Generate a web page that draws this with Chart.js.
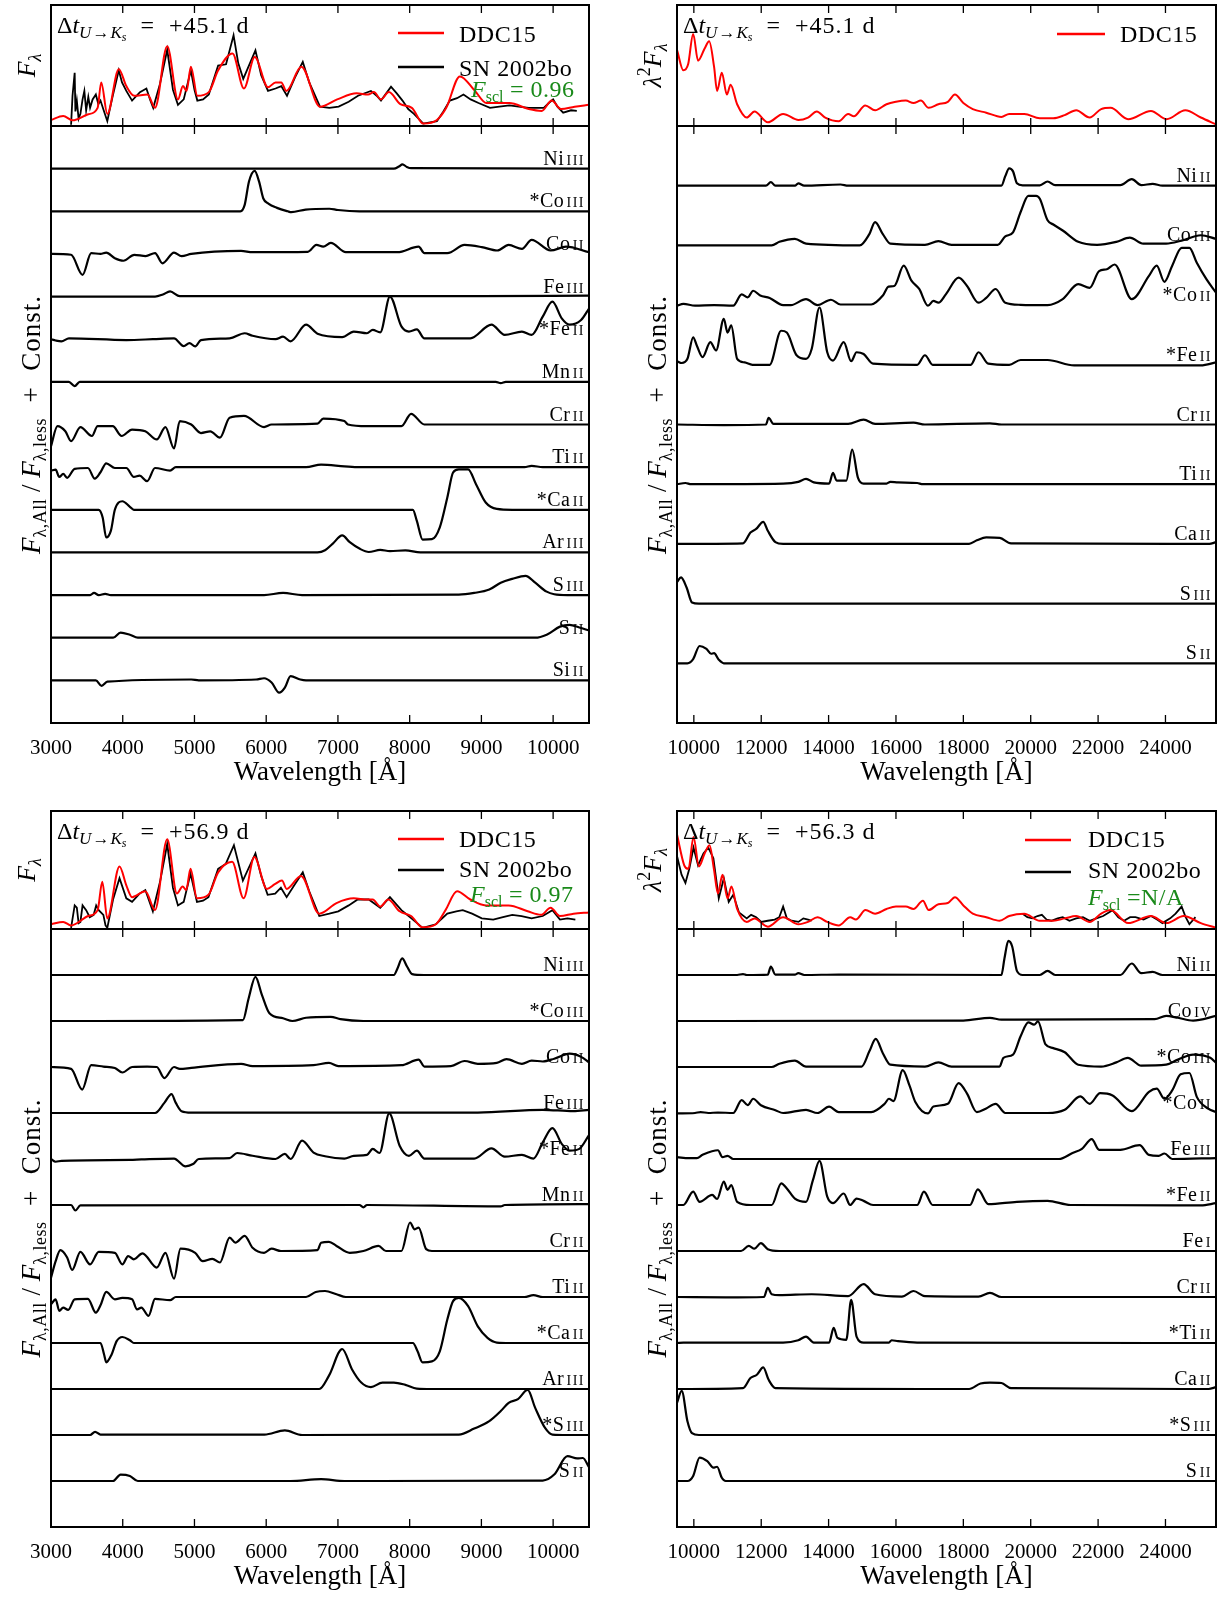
<!DOCTYPE html>
<html>
<head>
<meta charset="utf-8">
<script src="https://cdn.jsdelivr.net/npm/chart.js@4.4.1/dist/chart.umd.min.js"></script>
<style>
  body { margin: 0; background: #fff; width: 1219px; height: 1597px; position: relative; overflow: hidden; }
  canvas { position: absolute; }
</style>
</head>
<body>
<canvas id="tlTop"></canvas><canvas id="tlLow"></canvas>
<canvas id="trTop"></canvas><canvas id="trLow"></canvas>
<canvas id="blTop"></canvas><canvas id="blLow"></canvas>
<canvas id="brTop"></canvas><canvas id="brLow"></canvas>
<script>
// ---- tick values ----
const ticksOpt = [3000, 4000, 5000, 6000, 7000, 8000, 9000, 10000];
const ticksIR = [10000, 12000, 14000, 16000, 18000, 20000, 22000, 24000];

// ---- top panels: model (DDC15) and observed (SN 2002bo), pairs [wavelength, flux] ----
const modelTL = [3000,0.05, 3170,0.083, 3300,0.047, 3520,0.097, 3650,0.15, 3700,0.36, 3785,0.10, 3945,0.47, 4050,0.33, 4160,0.25, 4345,0.26, 4450,0.15, 4620,0.66, 4770,0.22, 4840,0.33, 4890,0.29, 4950,0.49, 5040,0.25, 5200,0.28, 5330,0.46, 5530,0.60, 5690,0.31, 5840,0.57, 6025,0.32, 6130,0.36, 6210,0.36, 6280,0.29, 6490,0.49, 6750,0.16, 6990,0.22, 7260,0.27, 7420,0.26, 7500,0.28, 7600,0.22, 7710,0.28, 7870,0.18, 8030,0.15, 8190,0.02, 8380,0.05, 8510,0.15, 8700,0.41, 8910,0.29, 9070,0.19, 9390,0.19, 9660,0.14, 9840,0.125, 9980,0.21, 10110,0.14, 10300,0.16, 10500,0.175];
const obsTL = [3280,0.01, 3300,0.25, 3330,0.44, 3340,0.12, 3360,0.21, 3385,0.06, 3410,0.10, 3440,0.22, 3465,0.29, 3490,0.13, 3520,0.24, 3545,0.15, 3580,0.22, 3625,0.26, 3660,0.18, 3690,0.21, 3740,0.12, 3785,0.04, 3820,0.14, 3865,0.26, 3945,0.46, 3990,0.36, 4050,0.29, 4130,0.21, 4240,0.28, 4330,0.31, 4380,0.22, 4425,0.15, 4520,0.35, 4620,0.63, 4700,0.30, 4770,0.175, 4850,0.22, 4950,0.46, 5000,0.30, 5040,0.21, 5120,0.22, 5200,0.26, 5330,0.50, 5440,0.51, 5545,0.75, 5610,0.52, 5680,0.39, 5850,0.625, 5930,0.42, 6025,0.29, 6130,0.31, 6210,0.33, 6290,0.25, 6400,0.40, 6510,0.53, 6600,0.36, 6750,0.16, 6880,0.15, 7010,0.16, 7150,0.20, 7280,0.25, 7460,0.29, 7540,0.25, 7600,0.21, 7740,0.325, 7820,0.27, 7900,0.21, 7980,0.14, 8060,0.10, 8190,0.02, 8380,0.04, 8470,0.12, 8560,0.21, 8660,0.23, 8750,0.26, 8850,0.22, 8960,0.19, 9120,0.15, 9250,0.16, 9390,0.17, 9520,0.16, 9660,0.15, 9870,0.15, 9940,0.19, 10000,0.22, 10060,0.16, 10140,0.11, 10250,0.13, 10330,0.125];
const modelTR = [9500,0.63, 9690,0.46, 9830,0.51, 9980,0.76, 10125,0.54, 10320,0.64, 10455,0.70, 10600,0.49, 10690,0.29, 10830,0.44, 10980,0.26, 11090,0.34, 11285,0.18, 11570,0.07, 11800,0.12, 12195,0.03, 12650,0.10, 13105,0.05, 13390,0.07, 13650,0.12, 13900,0.07, 14300,0.04, 14580,0.10, 14750,0.08, 15090,0.17, 15380,0.13, 15720,0.18, 16000,0.20, 16290,0.21, 16520,0.19, 16740,0.21, 16970,0.15, 17260,0.18, 17540,0.20, 17750,0.26, 18000,0.19, 18280,0.14, 18680,0.11, 19130,0.075, 19360,0.10, 19810,0.10, 20270,0.064, 20670,0.064, 21010,0.09, 21350,0.13, 21750,0.07, 22090,0.14, 22370,0.15, 22890,0.056, 23570,0.125, 24030,0.056, 24590,0.13, 25050,0.07, 25500,0.014];
const modelBL = [3000,0.04, 3170,0.06, 3280,0.03, 3520,0.11, 3650,0.16, 3715,0.40, 3785,0.09, 3955,0.53, 4050,0.37, 4130,0.27, 4315,0.32, 4450,0.16, 4620,0.76, 4755,0.30, 4835,0.36, 4885,0.33, 4945,0.51, 5035,0.26, 5195,0.29, 5330,0.48, 5525,0.57, 5685,0.26, 5835,0.61, 6010,0.34, 6120,0.38, 6220,0.41, 6285,0.34, 6485,0.45, 6740,0.13, 6980,0.22, 7220,0.26, 7405,0.25, 7485,0.25, 7590,0.19, 7700,0.25, 7860,0.15, 8020,0.11, 8180,0.014, 8365,0.04, 8500,0.16, 8660,0.32, 8845,0.25, 9060,0.20, 9380,0.20, 9645,0.15, 9830,0.12, 9965,0.18, 10095,0.11, 10285,0.13, 10500,0.14];
const obsBL = [3280,0.01, 3330,0.20, 3360,0.18, 3385,0.05, 3410,0.06, 3440,0.20, 3490,0.16, 3540,0.10, 3595,0.12, 3630,0.20, 3665,0.16, 3730,0.12, 3760,0.03, 3785,0.01, 3865,0.25, 3955,0.43, 4050,0.26, 4130,0.23, 4235,0.30, 4315,0.33, 4420,0.15, 4520,0.40, 4620,0.72, 4700,0.35, 4770,0.20, 4850,0.23, 4945,0.47, 5035,0.23, 5120,0.24, 5195,0.27, 5330,0.51, 5435,0.55, 5550,0.71, 5675,0.41, 5850,0.64, 5930,0.45, 6020,0.29, 6125,0.30, 6205,0.35, 6285,0.27, 6400,0.38, 6510,0.48, 6600,0.32, 6740,0.11, 6880,0.13, 7005,0.15, 7150,0.20, 7275,0.25, 7430,0.25, 7590,0.18, 7725,0.27, 7885,0.16, 8045,0.08, 8180,0.01, 8365,0.04, 8525,0.13, 8650,0.15, 8740,0.16, 8870,0.13, 9005,0.09, 9165,0.08, 9300,0.10, 9430,0.12, 9560,0.11, 9700,0.09, 9855,0.11, 9990,0.16, 10095,0.08, 10200,0.09, 10310,0.08];
const modelBR = [9500,0.80, 9715,0.54, 9840,0.51, 9990,0.78, 10150,0.53, 10320,0.64, 10465,0.71, 10600,0.50, 10715,0.30, 10850,0.46, 11000,0.26, 11115,0.36, 11285,0.17, 11570,0.06, 11800,0.09, 12195,0.02, 12650,0.10, 13105,0.04, 13390,0.06, 13670,0.10, 13960,0.06, 14300,0.03, 14640,0.10, 14810,0.08, 15095,0.16, 15380,0.13, 15720,0.17, 16000,0.19, 16290,0.19, 16520,0.17, 16800,0.24, 16970,0.16, 17260,0.21, 17540,0.22, 17750,0.27, 18000,0.20, 18280,0.13, 18680,0.10, 19075,0.07, 19360,0.11, 19810,0.13, 20270,0.07, 20670,0.07, 21010,0.09, 21350,0.11, 21750,0.06, 22090,0.13, 22370,0.16, 22890,0.05, 23570,0.11, 24030,0.05, 24540,0.11, 25050,0.05, 25500,0.01];
const obsBR = [9500,0.62, 9635,0.46, 9750,0.39, 9865,0.51, 9990,0.69, 10125,0.54, 10285,0.64, 10430,0.69, 10580,0.60, 10740,0.26, 10890,0.43, 11035,0.23, 11170,0.29, 11340,0.14, 11570,0.09, 11700,0.12, 11850,0.10, 12000,0.06, 12195,0.07, 12400,0.08, 12535,0.10, 12650,0.19, 12760,0.09, 12900,0.07, 13105,0.06, 13250,0.09, 13390,0.08, 13500,0.07, 14000,null, 19760,0.13, 19900,0.10, 20045,0.09, 20200,0.11, 20330,0.12, 20470,0.08, 20610,0.07, 20800,0.09, 20950,0.10, 21150,0.07, 21350,0.09, 21550,0.10, 21750,0.07, 21950,0.09, 22150,0.11, 22430,0.16, 22600,0.10, 22770,0.07, 22950,0.10, 23110,0.10, 23350,0.08, 23570,0.11, 23750,0.08, 23910,0.05, 24140,0.09, 24300,0.13, 24480,0.19, 24600,0.10, 24710,0.04, 24890,0.10];

// ---- ion contributions (top to bottom), offsets, and curves [wavelength, value] ----
const ionsTL = ['Ni III', '*Co III', 'Co II', 'Fe III', '*Fe II', 'Mn II', 'Cr II', 'Ti II', '*Ca II', 'Ar III', 'S III', 'S II', 'Si II'];
const constTL = [13, 12, 11, 10, 9, 8, 7, 6, 5, 4, 3, 2, 1];
const curvesTL = [
  [3000,0, 7780,0, 7850,0.05, 7900,0.1, 7960,0.04, 8020,0.01, 10500,0],
  [3000,0, 5640,0, 5700,0.15, 5760,0.7, 5840,0.95, 5900,0.7, 5960,0.3, 6030,0.18, 6150,0.08, 6300,0, 6350,-0.02, 6550,0.04, 6880,0.06, 7000,0.03, 7300,0, 10500,0],
  [3000,0, 3280,-0.02, 3440,-0.49, 3560,0.02, 3690,0, 3770,0.03, 3890,-0.1, 4010,-0.16, 4160,-0.02, 4320,-0.05, 4450,0.02, 4555,-0.22, 4715,0.03, 4820,-0.05, 4955,0, 5650,0.07, 5810,0.04, 6580,0.05, 6700,0.21, 6795,0.17, 6900,0.26, 7110,0.04, 7830,0.04, 8125,0.17, 8205,0.02, 8525,0.02, 8765,0.21, 9005,0.16, 9220,0.08, 9380,0.21, 9565,0.12, 9700,0.33, 9965,0.08, 10180,0.17, 10500,0.04],
  [3000,0, 4450,0, 4560,0.05, 4660,0.12, 4795,0.01, 9000,0.01, 10500,0.02],
  [3000,0, 3065,-0.03, 3145,-0.05, 3250,0.02, 4050,-0.02, 4420,0, 4715,0.02, 4850,-0.16, 4930,-0.09, 5010,-0.17, 5090,-0.02, 5490,0.02, 5700,0.14, 5810,0.08, 6130,0, 6235,0.06, 6340,-0.05, 6555,0.34, 6715,0.13, 7060,0.05, 7220,0.18, 7405,0.14, 7485,0.22, 7590,0.16, 7725,1.0, 7885,0.30, 7990,0.18, 8100,0.23, 8205,0.02, 8845,0.02, 9140,0.34, 9325,0.10, 9565,0.18, 9700,0.10, 9855,0.53, 9990,0.88, 10120,0.49, 10230,0.34, 10390,0.45, 10500,0.72],
  [3000,0, 3250,0, 3330,-0.1, 3400,0, 9200,0, 9270,-0.03, 9340,0, 10500,0],
  [3000,-0.51, 3090,-0.04, 3200,-0.16, 3280,-0.39, 3410,-0.06, 3570,-0.27, 3650,-0.04, 3860,-0.04, 3985,-0.27, 4130,-0.12, 4315,-0.16, 4475,-0.35, 4595,-0.06, 4715,-0.56, 4795,0.08, 4955,0, 5090,-0.2, 5220,-0.16, 5355,-0.31, 5490,0.16, 5690,0.2, 5970,-0.06, 6075,0, 6715,0.02, 6795,0.14, 7090,0.08, 7140,0, 7405,-0.04, 7885,-0.04, 8020,0.25, 8205,0, 10500,0],
  [3000,-0.08, 3065,-0.06, 3115,-0.23, 3170,-0.16, 3225,-0.25, 3330,-0.04, 3515,-0.02, 3610,-0.27, 3690,-0.12, 3770,0.09, 3890,-0.02, 4050,-0.02, 4155,-0.23, 4235,-0.2, 4340,-0.33, 4450,-0.02, 4660,-0.08, 4740,0, 6555,0, 6765,0.06, 7090,0.02, 7300,0, 9600,0, 9700,0.03, 9855,0, 10500,0],
  [3000,0, 3665,0, 3720,-0.18, 3770,-0.65, 3835,-0.49, 3890,0, 3995,0.2, 4100,0.07, 4155,0, 8045,0, 8100,-0.26, 8180,-0.70, 8310,-0.69, 8420,-0.41, 8525,0.29, 8605,0.875, 8685,0.95, 8815,0.95, 8925,0.60, 9060,0.17, 9215,0.02, 9430,0, 10500,0],
  [3000,0, 6715,0, 6820,0.05, 6925,0.2, 7060,0.4, 7165,0.24, 7300,0.09, 7430,0.01, 7590,0.06, 7725,0.03, 7940,0.05, 8150,0, 10500,0],
  [3000,0, 3545,0, 3600,0.05, 3665,0, 3755,0.03, 3835,0, 5970,0, 6235,0.05, 6500,0, 8685,0.01, 8900,0.05, 9110,0.13, 9270,0.29, 9430,0.38, 9615,0.45, 9750,0.29, 9910,0.08, 10015,0.02, 10200,0, 10500,0],
  [3000,0, 3865,0, 3970,0.12, 4100,0.07, 4210,0, 9750,0, 9910,0.07, 10095,0.26, 10230,0.30, 10365,0.24, 10500,0.17],
  [3000,0, 3625,0, 3705,-0.13, 3785,-0.03, 4955,0.02, 5060,0, 5860,0.02, 5970,0.05, 6075,-0.05, 6180,-0.29, 6260,-0.17, 6340,0.1, 6475,0.02, 6555,0, 10500,0]
];

const ionsTR = ['Ni II', 'Co III', '*Co II', '*Fe II', 'Cr II', 'Ti II', 'Ca II', 'S III', 'S II'];
const constTR = [9, 8, 7, 6, 5, 4, 3, 2, 1];
const curvesTR = [
  [9500,0, 12140,0, 12285,0.06, 12420,0, 13000,0, 13100,0.04, 13275,0, 14355,0.02, 14580,0, 19130,0, 19245,0.16, 19360,0.29, 19475,0.24, 19590,0.04, 19760,0.005, 20270,0.005, 20500,0.07, 20725,0.01, 22660,0.01, 23000,0.11, 23280,0.01, 23620,0.03, 23910,0, 25500,0],
  [9500,0, 12310,0, 12540,0.06, 13000,0.11, 13330,0.03, 14925,0, 15210,0.19, 15380,0.39, 15610,0.19, 15835,0.03, 16860,0.01, 17260,0.07, 17650,0.01, 19020,0.01, 19245,0.15, 19475,0.22, 19700,0.56, 19930,0.83, 20160,0.83, 20270,0.78, 20500,0.42, 20670,0.35, 20950,0.25, 21410,0.06, 21970,0.01, 22540,0.06, 22940,0.13, 23340,0.03, 24020,0.03, 24480,0.08, 25050,0.17, 25500,0.11],
  [9500,-0.01, 9690,0.02, 10035,-0.01, 10600,0, 11170,-0.01, 11420,0.18, 11600,0.13, 11760,0.24, 11970,0.16, 12250,0.12, 12650,0, 12880,0, 13330,0.1, 13670,0, 14070,0.09, 14355,0.01, 15265,0.01, 15610,0.16, 15780,0.31, 15950,0.32, 16230,0.66, 16460,0.41, 16690,0.27, 16950,-0.01, 17110,0.07, 17260,0.04, 17480,0.18, 17860,0.46, 18110,0.32, 18450,0.04, 18680,0.12, 18960,0.27, 19245,0.04, 19700,0.005, 20500,0, 20950,0.1, 21410,0.35, 21750,0.29, 22030,0.57, 22260,0.6, 22490,0.68, 23000,0.1, 23510,0.49, 23740,0.66, 23970,0.39, 24200,0.66, 24480,0.96, 24710,0.96, 24930,0.71, 25220,0.43, 25500,0.21],
  [9500,0.06, 9640,0.03, 9810,0.1, 9980,0.46, 10090,0.32, 10260,0.13, 10490,0.38, 10660,0.24, 10890,0.77, 11000,0.54, 11110,0.66, 11285,0.1, 11510,0.04, 11740,0, 12250,0, 12590,0.57, 12760,0.54, 13050,0.16, 13330,0.1, 13500,0.27, 13730,0.96, 13960,0.21, 14130,0.07, 14450,0.38, 14670,0.06, 14830,0.21, 15040,0.18, 15320,0.02, 16630,0, 16860,0.16, 17090,0, 18220,0, 18450,0.21, 18740,0.02, 19360,0, 19700,0.08, 20500,0.08, 21290,-0.01, 25050,-0.01, 25500,0.04],
  [9500,0, 10890,-0.01, 12140,0, 12220,0.11, 12365,0.01, 14580,0.01, 15040,0.08, 15380,0.01, 16520,0.03, 16860,0, 18790,0.02, 19130,0, 25500,0],
  [9500,0, 9750,0.02, 9920,0, 12650,0.01, 13100,0.04, 13330,0.09, 13560,0.03, 14015,0.01, 14130,0.19, 14240,0.06, 14525,0.06, 14700,0.58, 14870,0.11, 15040,0.01, 15720,0.01, 15835,0.04, 16060,0.03, 16630,0.02, 16800,0, 25500,0],
  [9500,0, 11460,0.01, 11680,0.19, 11850,0.25, 12060,0.37, 12195,0.22, 12420,0.03, 12650,0, 18170,0, 18400,0.06, 18680,0.11, 19080,0.1, 19415,0.01, 25300,0, 25500,0.03],
  [9500,0.36, 9620,0.44, 9785,0.27, 9945,0.02, 10150,0, 25500,0],
  [9500,0, 9810,0, 9980,0.07, 10170,0.29, 10375,0.24, 10510,0.16, 10600,0.17, 10740,0.06, 10890,0, 25500,0]
];

const ionsBL = ['Ni III', '*Co III', 'Co II', 'Fe III', '*Fe II', 'Mn II', 'Cr II', 'Ti II', '*Ca II', 'Ar III', '*S III', 'S II'];
const constBL = [12, 11, 10, 9, 8, 7, 6, 5, 4, 3, 2, 1];
const curvesBL = [
  [3000,0, 7780,0, 7830,0.14, 7895,0.36, 7965,0.18, 8035,0.02, 8200,0, 10500,0],
  [3000,0, 5675,0.02, 5755,0.49, 5850,0.96, 5940,0.57, 6045,0.17, 6235,0.06, 6365,0, 6555,0.07, 6900,0.09, 7035,0.04, 7355,0, 10500,0],
  [3000,0, 3280,-0.04, 3435,-0.49, 3560,0.04, 3730,0.01, 3890,-0.02, 3995,-0.12, 4130,0, 4340,0.01, 4475,0, 4580,-0.24, 4715,0, 4795,-0.04, 4955,-0.02, 5650,0.07, 5810,0.02, 6660,0.04, 6875,0.09, 7005,0.02, 7885,0.04, 8125,0.16, 8205,0.01, 8575,0.02, 8765,0.13, 8950,0.07, 9215,0.09, 9350,0.17, 9565,0.07, 9700,0.14, 9855,0.12, 10015,0.18, 10230,0.29, 10390,0.22, 10500,0.1],
  [3000,0, 4450,0, 4580,0.22, 4680,0.41, 4740,0.22, 4820,0.04, 4955,0.01, 8950,0.01, 9855,0.07, 10280,0.04, 10500,0.07],
  [3000,0, 3065,-0.06, 3145,-0.04, 4100,-0.02, 4260,-0.01, 4715,0.01, 4875,-0.16, 4980,-0.11, 5060,0, 5490,0.02, 5595,0.13, 5810,0.07, 6130,0, 6260,0.11, 6340,0, 6500,0.4, 6660,0.14, 6820,0.06, 7090,0.01, 7220,0.07, 7405,0.09, 7485,0.22, 7580,0.13, 7715,0.99, 7860,0.29, 7990,0.07, 8100,0.18, 8205,0.01, 8900,0.01, 9140,0.23, 9325,0.05, 9565,0.09, 9725,0.01, 9855,0.36, 9990,0.67, 10120,0.33, 10230,0.18, 10365,0.22, 10500,0.52],
  [3000,0, 3280,0, 3340,-0.12, 3410,-0.01, 7300,0, 7355,-0.05, 7405,0, 9270,-0.03, 9325,0, 10500,0.02],
  [3000,-0.58, 3065,-0.22, 3130,0.02, 3225,-0.14, 3295,-0.41, 3410,-0.02, 3545,-0.29, 3665,-0.02, 3890,-0.04, 3995,-0.29, 4075,-0.11, 4155,-0.18, 4275,-0.05, 4475,-0.36, 4595,-0.04, 4715,-0.6, 4805,0.05, 5010,-0.04, 5115,-0.22, 5250,-0.17, 5355,-0.25, 5490,0.29, 5570,0.18, 5700,0.33, 5810,0.07, 5970,-0.04, 6075,0.05, 6205,0, 6715,0.02, 6765,0.18, 6875,0.2, 6980,0.11, 7165,-0.04, 7355,0, 7565,0.11, 7670,0, 7885,0, 8005,0.62, 8070,0.47, 8125,0.51, 8230,0.04, 8310,0, 10500,0],
  [3000,-0.16, 3065,-0.05, 3115,-0.3, 3170,-0.23, 3240,-0.28, 3330,-0.05, 3515,-0.04, 3625,-0.34, 3690,-0.18, 3770,0.11, 3890,-0.05, 3995,-0.02, 4130,-0.05, 4200,-0.27, 4260,-0.23, 4360,-0.41, 4450,-0.04, 4660,-0.07, 4740,0, 6555,0, 6690,0.11, 6820,0.13, 6980,0.06, 7110,0, 9600,0, 9725,0.04, 9855,0, 10500,0],
  [3000,0, 3690,0, 3740,-0.25, 3770,-0.42, 3845,-0.25, 3915,0.04, 3995,0.13, 4100,0.06, 4155,0, 8045,0, 8110,-0.18, 8180,-0.42, 8310,-0.4, 8420,-0.18, 8525,0.51, 8605,0.91, 8685,0.98, 8815,0.8, 8950,0.36, 9085,0.11, 9215,0.01, 9400,0, 10500,0],
  [3000,0, 6740,0, 6875,0.29, 7060,0.87, 7195,0.43, 7325,0.14, 7460,0.04, 7620,0.14, 7780,0.14, 7940,0.09, 8100,0.01, 8300,0, 10500,0],
  [3000,0, 3545,0, 3615,0.07, 3690,0.01, 3785,0.01, 5975,0.01, 6260,0.1, 6500,0, 8685,0.01, 8900,0.14, 9110,0.3, 9270,0.52, 9380,0.7, 9510,0.78, 9645,0.98, 9750,0.59, 9885,0.16, 9990,0.01, 10200,0, 10500,0],
  [3000,0, 3865,0, 3970,0.14, 4100,0.11, 4210,0, 6340,0, 6765,0.04, 7090,0, 9855,0.01, 10015,0.14, 10200,0.54, 10335,0.49, 10415,0.5, 10500,0.3]
];

const ionsBR = ['Ni II', 'Co IV', '*Co III', '*Co II', 'Fe III', '*Fe II', 'Fe I', 'Cr II', '*Ti II', 'Ca II', '*S III', 'S II'];
const constBR = [12, 11, 10, 9, 8, 7, 6, 5, 4, 3, 2, 1];
const curvesBR = [
  [9500,0, 11285,0, 11460,0.02, 11570,0, 12195,0.01, 12285,0.18, 12420,0.01, 13000,0.01, 13100,0.04, 13275,0, 14300,0.01, 19130,0, 19220,0.36, 19335,0.74, 19450,0.62, 19590,0.09, 19760,0, 20270,0, 20500,0.09, 20725,0, 22660,0, 23000,0.25, 23280,0.04, 23620,0.07, 23910,0, 25500,0],
  [9500,0, 18000,0.01, 18790,0.07, 19130,0.03, 23680,0.04, 24020,0.11, 24370,0.07, 24820,0.01, 25500,0.11],
  [9500,0, 12310,0, 12540,0.07, 13000,0.14, 13330,0.01, 14980,0.01, 15210,0.34, 15400,0.61, 15610,0.3, 15835,0.05, 16860,0.01, 17260,0.1, 17650,0.01, 19075,0.01, 19190,0.2, 19475,0.27, 19700,0.67, 19930,0.97, 20100,0.92, 20215,0.99, 20440,0.49, 20670,0.41, 21010,0.32, 21410,0.05, 22090,0.01, 22540,0.1, 22880,0.2, 23280,0.03, 24020,0.05, 24370,0.16, 24820,0.27, 25330,0.2, 25500,0.09],
  [9500,-0.01, 10035,0, 10200,0.02, 10430,0, 10715,0.01, 11170,0, 11420,0.28, 11600,0.17, 11760,0.31, 11990,0.17, 12420,0.06, 12650,0, 13330,0.07, 13670,0, 14015,0.14, 14300,0.02, 15265,0.02, 15665,0.2, 15790,0.31, 15925,0.26, 16200,0.93, 16400,0.6, 16575,0.24, 16950,-0.01, 17110,0.14, 17540,0.2, 17860,0.65, 18110,0.42, 18400,0.02, 18680,0.1, 18960,0.2, 19245,0, 20500,0, 21010,0.07, 21470,0.36, 21750,0.2, 22060,0.43, 22430,0.38, 23000,0.04, 23510,0.46, 23740,0.53, 23970,0.31, 24200,0.49, 24450,0.84, 24710,0.87, 24930,0.35, 25280,0.09, 25500,0.02],
  [9500,0.04, 9860,0.02, 10090,0.02, 10260,0.09, 10715,0.19, 10850,0.04, 11000,0.07, 11170,0, 20840,0, 21240,0.13, 21520,0.22, 21810,0.43, 22030,0.2, 22660,0.2, 23230,0.3, 23510,0.09, 23800,0.07, 23970,0.12, 24200,0, 25500,0.02],
  [9500,0, 9690,0, 9980,0.29, 10170,0.07, 10545,0.22, 10690,0.13, 10890,0.51, 11000,0.33, 11110,0.43, 11285,0.07, 11680,0, 12310,0, 12595,0.47, 12760,0.36, 13000,0.14, 13330,0.07, 13535,0.54, 13730,0.96, 13960,0.18, 14130,0.04, 14450,0.25, 14640,0, 14830,0.14, 15040,0.09, 15320,0, 16630,0, 16830,0.29, 17090,0, 18200,0, 18430,0.34, 18740,0.02, 19590,0.07, 20500,0.09, 21180,0, 25050,-0.01, 25500,0.04],
  [9500,0, 11400,0, 11630,0.11, 11800,0.05, 11990,0.17, 12195,0.04, 12535,0, 25500,0],
  [9500,0, 10945,-0.01, 12080,0, 12195,0.2, 12310,0.06, 12535,0.04, 13500,0.06, 14580,0.02, 15040,0.28, 15380,0.06, 16175,0.01, 16520,0.13, 16860,0.02, 18450,0.01, 18790,0.09, 19130,0, 25500,0],
  [9500,0, 9690,0.01, 12650,0.01, 13100,0.06, 13330,0.14, 13560,0.01, 14015,0.01, 14150,0.33, 14265,0.11, 14525,0.07, 14670,0.94, 14830,0.14, 15040,0.01, 15790,0.01, 15870,0.06, 16060,0.04, 16630,0.01, 25500,0],
  [9500,0, 11460,0.02, 11680,0.24, 11870,0.31, 12060,0.47, 12220,0.2, 12420,0.02, 18170,0, 18510,0.12, 18790,0.14, 19130,0.13, 19415,0.02, 25280,0, 25500,0.04],
  [9500,0.7, 9640,0.96, 9810,0.3, 9945,0.04, 10150,0, 25500,0],
  [9500,0, 9810,0, 9980,0.11, 10170,0.51, 10400,0.43, 10580,0.29, 10690,0.31, 10830,0.07, 10945,0, 25500,0]
];

// ---- text helpers ----
const SERIF = '"Liberation Serif", "Times New Roman", serif';
function fnt(size, italic) { return (italic ? 'italic ' : '') + size + 'px ' + SERIF; }

// parts: [text, size, italic, dy, letterSpacing]
function rich(ctx, parts, x, y, align) {
  const width = p => { ctx.font = fnt(p[1], p[2]); ctx.letterSpacing = (p[4] || 0) + 'px'; return ctx.measureText(p[0]).width; };
  let w = 0;
  parts.forEach(p => { w += width(p); });
  let cx = align === 'right' ? x - w : align === 'center' ? x - w / 2 : x;
  ctx.textAlign = 'left';
  ctx.textBaseline = 'alphabetic';
  parts.forEach(p => {
    const pw = width(p);
    ctx.fillText(p[0], cx, y + (p[3] || 0));
    cx += pw;
  });
  ctx.letterSpacing = '0px';
}

function epoch(v) {
  return [['Δ', 24], ['t', 24, true], ['U', 17, true, 5, 1], ['→', 17, false, 5, 1], ['K', 17, true, 5], ['s', 12, true, 8], ['  =  ' + v + ' d', 24, false, 0, 1]];
}
function fscl(v) { return [['F', 24, true], ['scl', 16, false, 5], [v, 24, false, 0, 0.5]]; }
const labFlux = [['F', 26, true], ['λ', 18, true, 6]];
const labL2F = [['λ', 26, true], ['2', 18, false, -11], ['F', 26, true], ['λ', 18, true, 6]];
const labRatio = [['F', 27, true], ['λ,All', 18, false, 6, 0.5], [' / ', 27], ['F', 27, true], ['λ,less', 18, false, 6, 0.5], ['  +  Const.', 27, false, 0, 1]];

// ---- plugins ----
const framePlugin = {
  id: 'frame',
  afterDatasetsDraw(chart, args, o) {
    const { ctx, chartArea: a } = chart;
    const x = chart.scales.x;
    ctx.save();
    ctx.strokeStyle = '#000';
    ctx.lineWidth = 1.3;
    ctx.beginPath();
    o.ticks.forEach(v => {
      const px = x.getPixelForValue(v);
      ctx.moveTo(px, a.top); ctx.lineTo(px, a.top + 8);
      ctx.moveTo(px, a.bottom); ctx.lineTo(px, a.bottom - 8);
    });
    ctx.stroke();
    ctx.lineWidth = 2;
    ctx.strokeRect(a.left, a.top, a.right - a.left, a.bottom - a.top);
    ctx.restore();
  }
};

const ionLabels = {
  id: 'ionLabels',
  afterDatasetsDraw(chart, args, o) {
    if (!o.names) return;
    const { ctx, chartArea: a } = chart;
    const y = chart.scales.y;
    ctx.save();
    ctx.fillStyle = '#000';
    o.names.forEach((n, i) => {
      const [el, st] = n.split(' ');
      rich(ctx, [[el, 20, false, 0, 0.5], [' ', 9], [st, 14, false, 0, 1.5]], a.right - 4, y.getPixelForValue(o.consts[i]) - 4, 'right');
    });
    ctx.restore();
  }
};

const textPlugin = {
  id: 'texts',
  afterDraw(chart, args, o) {
    const { ctx, chartArea: a } = chart;
    ctx.save();
    (o.lines || []).forEach(l => {
      ctx.strokeStyle = l.color;
      ctx.lineWidth = 2.5;
      ctx.beginPath();
      ctx.moveTo(a.left + l.x0, a.top + l.y);
      ctx.lineTo(a.left + l.x1, a.top + l.y);
      ctx.stroke();
    });
    (o.items || []).forEach(it => {
      ctx.fillStyle = it.color || '#000';
      if (it.rot) {
        ctx.save();
        ctx.translate(a.left + it.dx, (a.top + a.bottom) / 2);
        ctx.rotate(-Math.PI / 2);
        rich(ctx, it.parts, 0, 0, 'center');
        ctx.restore();
      } else {
        rich(ctx, it.parts, a.left + it.dx, a.top + it.dy, 'left');
      }
    });
    ctx.restore();
  }
};

// ---- chart builders ----
function pts(flat, off) {
  const out = [];
  for (let i = 0; i < flat.length; i += 2) {
    out.push({ x: flat[i], y: flat[i + 1] === null ? null : flat[i + 1] + off });
  }
  return out;
}

function place(id, left, top, w, h) {
  const c = document.getElementById(id);
  c.width = w; c.height = h;
  c.style.left = left + 'px'; c.style.top = top + 'px';
  c.style.width = w + 'px'; c.style.height = h + 'px';
  return c;
}

function makeChart(canvas, datasets, o) {
  return new Chart(canvas, {
    type: 'line',
    data: { datasets },
    options: {
      responsive: false,
      animation: false,
      devicePixelRatio: 1,
      events: [],
      layout: { padding: o.pad },
      elements: { point: { radius: 0 } },
      scales: {
        x: {
          type: 'linear', min: o.xmin, max: o.xmax, display: o.axis,
          afterBuildTicks: s => { s.ticks = o.ticks.map(v => ({ value: v })); },
          afterFit: s => { s.height = o.axis ? 70 : 0; },
          ticks: { color: '#000', font: { family: SERIF, size: 21 }, padding: 5, maxRotation: 0, autoSkip: false, callback: v => String(v) },
          grid: { display: false },
          border: { display: false },
          title: { display: true, text: 'Wavelength [Å]', color: '#000', font: { family: SERIF, size: 27 }, padding: { top: 0, bottom: 4 } }
        },
        y: { display: false, min: o.ymin, max: o.ymax }
      },
      plugins: {
        legend: { display: false },
        tooltip: { enabled: false },
        frame: { ticks: o.ticks },
        ionLabels: { names: o.names, consts: o.consts },
        texts: { items: o.items, lines: o.lines }
      }
    },
    plugins: [framePlugin, ionLabels, textPlugin]
  });
}

function buildPanel(p) {
  const top = [{ data: pts(p.model, 0), borderColor: '#ff0000', borderWidth: 2, cubicInterpolationMode: 'monotone' }];
  if (p.obs) top.push({ data: pts(p.obs, 0), borderColor: '#000', borderWidth: 1.8, spanGaps: false });
  const legendLines = [{ color: '#ff0000', x0: p.leg.x0, x1: p.leg.x1, y: p.leg.y[0] }];
  const items = [
    { parts: epoch(p.epoch), dx: 6, dy: 28 },
    { parts: [['DDC15', 24, false, 0, 0.5]], dx: p.leg.tx, dy: p.leg.tb[0] },
    { parts: p.ylab, rot: true, dx: -16 }
  ];
  if (p.obs) {
    legendLines.push({ color: '#000', x0: p.leg.x0, x1: p.leg.x1, y: p.leg.y[1] });
    items.push({ parts: [['SN 2002bo', 24, false, 0, 0.5]], dx: p.leg.tx, dy: p.leg.tb[1] });
    items.push({ parts: fscl(p.fscl), dx: p.leg.fx, dy: p.leg.fb, color: '#1a8a1a' });
  }
  makeChart(place(p.id + 'Top', p.left, p.topY, p.w, p.topH), top, {
    pad: { left: p.padL, right: p.padR, top: 5, bottom: 4 },
    xmin: p.xmin, xmax: p.xmax, ymin: 0, ymax: 1, axis: false, ticks: p.ticks,
    items, lines: legendLines
  });
  const low = p.curves.map((c, i) => ({
    data: pts(c, p.consts[i]), borderColor: '#000', borderWidth: 2.2, cubicInterpolationMode: 'monotone'
  }));
  makeChart(place(p.id + 'Low', p.left, p.lowY, p.w, p.lowH), low, {
    pad: { left: p.padL, right: p.padR, top: 4, bottom: 0 },
    xmin: p.xmin, xmax: p.xmax, ymin: 0, ymax: p.ymax, axis: true, ticks: p.ticks,
    names: p.ions, consts: p.consts,
    items: [{ parts: labRatio, rot: true, dx: -11 }]
  });
}

buildPanel({ id: 'tl', left: 0, w: 610, padL: 51, padR: 21, topY: 0, topH: 130, lowY: 122, lowH: 671,
  xmin: 3000, xmax: 10500, ticks: ticksOpt, ymax: 14, model: modelTL, obs: obsTL,
  ions: ionsTL, consts: constTL, curves: curvesTL, epoch: '+45.1', fscl: ' = 0.96', ylab: labFlux,
  leg: { x0: 347, x1: 393, y: [28, 62], tx: 408, tb: [37, 71], fx: 420, fb: 92 } });
buildPanel({ id: 'tr', left: 612, w: 607, padL: 65, padR: 3, topY: 0, topH: 130, lowY: 122, lowH: 671,
  xmin: 9500, xmax: 25500, ticks: ticksIR, ymax: 10, model: modelTR, obs: null,
  ions: ionsTR, consts: constTR, curves: curvesTR, epoch: '+45.1', ylab: labL2F,
  leg: { x0: 380, x1: 428, y: [29], tx: 443, tb: [37] } });
buildPanel({ id: 'bl', left: 0, w: 610, padL: 51, padR: 21, topY: 806, topH: 127, lowY: 925, lowH: 672,
  xmin: 3000, xmax: 10500, ticks: ticksOpt, ymax: 13, model: modelBL, obs: obsBL,
  ions: ionsBL, consts: constBL, curves: curvesBL, epoch: '+56.9', fscl: ' = 0.97', ylab: labFlux,
  leg: { x0: 347, x1: 393, y: [28, 59], tx: 408, tb: [36, 66], fx: 419, fb: 91 } });
buildPanel({ id: 'br', left: 612, w: 607, padL: 65, padR: 3, topY: 806, topH: 127, lowY: 925, lowH: 672,
  xmin: 9500, xmax: 25500, ticks: ticksIR, ymax: 13, model: modelBR, obs: obsBR,
  ions: ionsBR, consts: constBR, curves: curvesBR, epoch: '+56.3', fscl: ' =N/A', ylab: labL2F,
  leg: { x0: 348, x1: 394, y: [29, 61], tx: 411, tb: [36, 67], fx: 411, fb: 94 } });
</script>
</body>
</html>
